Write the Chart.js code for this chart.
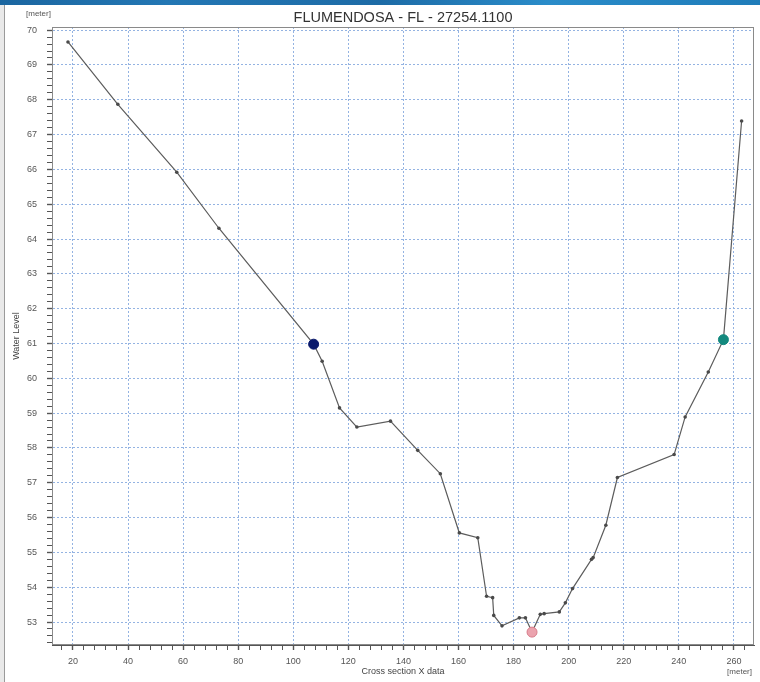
<!DOCTYPE html>
<html>
<head>
<meta charset="utf-8">
<script src="https://cdn.jsdelivr.net/npm/chart.js@4.4.1/dist/chart.umd.min.js"></script>
<style>
    body { margin: 0; background: #fff; }
    #marco { position: relative; width: 760px; height: 682px; overflow: hidden; background: #fff; }
    #grafico { position: absolute; left: 0; top: 0; }
    #barraSup { position: absolute; left: 0; top: 0; width: 760px; height: 5px;
        background: linear-gradient(90deg, #1b66a0 0%, #2377b4 22%, #1d6ba6 50%, #2a8cc9 72%, #1f7cb9 100%); }
    #barraIzq { position: absolute; left: 0; top: 5px; width: 4px; height: 677px; background: #e9e9e9;
        border-right: 1px solid #9a9a9a; }
</style>
</head>
<body>
<div id="marco">
    <canvas id="grafico" width="760" height="682"></canvas>
    <div id="barraSup"></div>
    <div id="barraIzq"></div>
</div>
<script>
// Datos de la sección transversal
const seccionX = [18.2, 36.3, 57.7, 73.0, 107.4, 110.5, 116.8, 123.1, 135.3, 145.2, 153.4, 160.3, 167.0,
    170.2, 172.4, 172.8, 175.8, 182.1, 184.3, 186.7, 189.7, 191.1, 196.6, 198.8, 201.4, 208.3, 208.9,
    213.5, 217.7, 238.3, 242.3, 250.7, 256.2, 262.8];
const nivelAgua = [69.66, 67.87, 65.92, 64.31, 60.98, 60.49, 59.15, 58.60, 58.77, 57.93, 57.26, 55.56, 55.42,
    53.74, 53.70, 53.19, 52.89, 53.12, 53.12, 52.71, 53.22, 53.24, 53.29, 53.55, 53.96, 54.80, 54.85,
    55.78, 57.15, 57.81, 58.89, 60.18, 61.11, 67.39];

// Marcadores: orilla izquierda, punto más bajo, orilla derecha
const marcadorX = [107.4, 186.7, 256.2];
const marcadorY = [60.98, 52.71, 61.11];
const marcadorColor = ['#0b1a6c', '#eba3ae', '#13897e'];
const marcadorBorde = ['#0b1a6c', '#d77c8a', '#13897e'];

const limitesX = [12.4, 267.3];
const limitesY = [52.34, 70.09];
const pasoMenorX = 4, pasoMayorX = 20;
const pasoMenorY = 0.2, pasoMayorY = 1;

const titulo = 'FLUMENDOSA - FL - 27254.1100';

function esMultiplo(v, paso) {
    return Math.abs(v / paso - Math.round(v / paso)) < 1e-6;
}

const puntos = seccionX.map((x, i) => ({ x: x, y: nivelAgua[i] }));
const marcadores = marcadorX.map((x, i) => ({ x: x, y: marcadorY[i] }));

// Recuadro del área de dibujo y unidades
const recuadro = {
    id: 'recuadro',
    afterDraw(chart) {
        const { ctx, chartArea } = chart;
        ctx.save();
        ctx.strokeStyle = '#8a8a8a';
        ctx.lineWidth = 1;
        ctx.strokeRect(chartArea.left + 0.5, chartArea.top + 0.5,
            chartArea.right - chartArea.left - 1, chartArea.bottom - chartArea.top - 1);
        ctx.fillStyle = '#555';
        ctx.font = '8px "Liberation Sans", Arial, sans-serif';
        ctx.textBaseline = 'middle';
        ctx.textAlign = 'left';
        ctx.fillText('[meter]', 26, 14);
        ctx.textAlign = 'right';
        ctx.fillText('[meter]', 752, 672);
        ctx.restore();
    }
};

const fuente = '"Liberation Sans", Arial, sans-serif';
const colorRejilla = '#94b3e2';

new Chart(document.getElementById('grafico').getContext('2d'), {
    type: 'scatter',
    data: {
        datasets: [
            {
                data: marcadores,
                order: 0,
                showLine: false,
                pointRadius: 5,
                pointBackgroundColor: marcadorColor,
                pointBorderColor: marcadorBorde,
                pointBorderWidth: 1
            },
            {
                data: puntos,
                order: 1,
                showLine: true,
                borderColor: '#5c5c5c',
                borderWidth: 1.2,
                pointRadius: 1.8,
                pointBackgroundColor: '#4a4a4a',
                pointBorderWidth: 0
            }
        ]
    },
    options: {
        responsive: false,
        animation: false,
        layout: { padding: { left: 8, right: 5, top: 5, bottom: 0 } },
        plugins: {
            legend: { display: false },
            tooltip: { enabled: false },
            title: {
                display: true,
                text: titulo,
                fullSize: false,
                color: '#333',
                font: { family: fuente, size: 14.5, weight: 'normal' },
                padding: { top: 3.8, bottom: 0.8 }
            }
        },
        scales: {
            x: {
                type: 'linear',
                min: limitesX[0],
                max: limitesX[1],
                afterFit: s => { s.height = 37; },
                border: { color: '#555', width: 1, dash: [2, 2] },
                grid: {
                    color: c => esMultiplo(c.tick.value, pasoMayorX) ? colorRejilla : 'rgba(0,0,0,0)',
                    tickColor: '#555',
                    tickLength: 5,
                    tickWidth: c => esMultiplo(c.tick.value, pasoMayorX) ? 1.4 : 1
                },
                ticks: {
                    stepSize: pasoMenorX,
                    autoSkip: false,
                    includeBounds: false,
                    maxRotation: 0,
                    padding: 6,
                    color: '#555',
                    font: { family: fuente, size: 9 },
                    callback: v => esMultiplo(v, pasoMayorX) ? Math.round(v) : ''
                },
                title: {
                    display: true,
                    text: 'Cross section X data',
                    color: '#444',
                    font: { family: fuente, size: 9 },
                    padding: { top: 0, bottom: 4.6 }
                }
            },
            y: {
                type: 'linear',
                min: limitesY[0],
                max: limitesY[1],
                afterFit: s => { s.width = 44; },
                border: { color: '#555', width: 1, dash: [2, 2] },
                grid: {
                    color: c => esMultiplo(c.tick.value, pasoMayorY) ? colorRejilla : 'rgba(0,0,0,0)',
                    tickColor: '#555',
                    tickLength: 5,
                    tickWidth: c => esMultiplo(c.tick.value, pasoMayorY) ? 1.4 : 1
                },
                ticks: {
                    stepSize: pasoMenorY,
                    autoSkip: false,
                    includeBounds: false,
                    padding: 10,
                    color: '#555',
                    font: { family: fuente, size: 9 },
                    callback: v => esMultiplo(v, pasoMayorY) ? Math.round(v) : ''
                },
                title: {
                    display: true,
                    text: 'Water Level',
                    color: '#444',
                    font: { family: fuente, size: 9 },
                    padding: { top: 3, bottom: 0 }
                }
            }
        }
    },
    plugins: [recuadro]
});
</script>
</body>
</html>
